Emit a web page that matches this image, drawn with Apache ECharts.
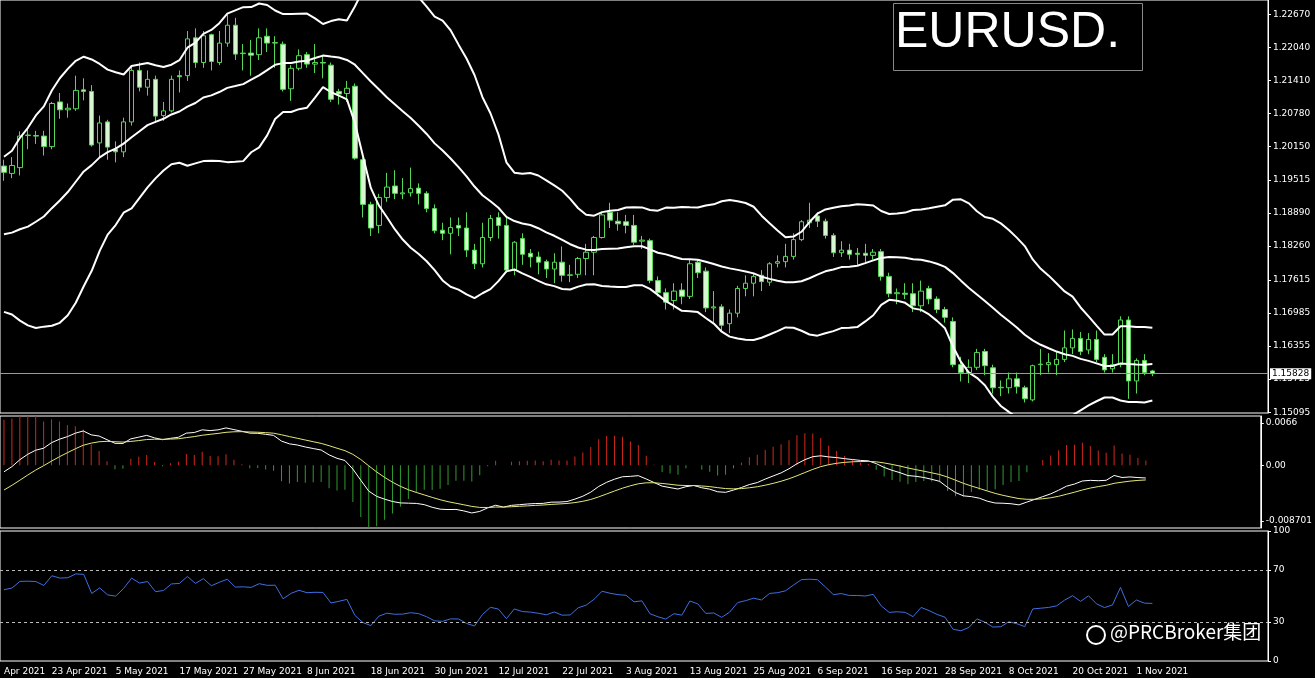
<!DOCTYPE html>
<html>
<head>
<meta charset="utf-8">
<title>EURUSD.</title>
<script src="https://cdn.jsdelivr.net/npm/echarts@6/dist/echarts.min.js"></script>
<style>
  html, body { margin: 0; padding: 0; background: #000; }
  #main { width: 1315px; height: 678px; }
</style>
</head>
<body>
<div id="main"></div>
<script>
// closes before the visible window, only used to warm up the indicators
var historyCloses = [1.2163, 1.2175, 1.2075, 1.2050, 1.2090, 1.2060, 1.1965, 1.1915, 1.1846, 1.1900,
  1.1926, 1.1985, 1.1950, 1.1930, 1.1900, 1.1980, 1.1915, 1.1905, 1.1937, 1.1850,
  1.1815, 1.1780, 1.1795, 1.1765, 1.1730, 1.1728, 1.1778, 1.1765, 1.1812, 1.1875,
  1.1870, 1.1915, 1.1900, 1.1912, 1.1948];

// daily candles [open, close, low, high]
var candles = [
  [1.1978,1.1966,1.1950,1.1990],[1.1964,1.1979,1.1955,1.1995],[1.1975,1.2035,1.1960,1.2044],[1.2036,1.2037,1.2010,1.2048],
  [1.2036,1.2035,1.2020,1.2045],[1.2035,1.2015,1.1998,1.2045],[1.2015,1.2097,1.2010,1.2100],[1.2100,1.2085,1.2068,1.2117],
  [1.2085,1.2088,1.2070,1.2097],[1.2087,1.2122,1.2083,1.2150],[1.2123,1.2120,1.2103,1.2145],[1.2120,1.2018,1.2015,1.2132],
  [1.2022,1.2060,1.1995,1.2074],[1.2062,1.2014,1.1990,1.2066],[1.2010,1.2005,1.1985,1.2025],[1.2005,1.2062,1.1995,1.2070],
  [1.2062,1.2160,1.2055,1.2170],[1.2160,1.2128,1.2120,1.2175],[1.2128,1.2143,1.2112,1.2160],[1.2143,1.2073,1.2060,1.2150],
  [1.2074,1.2083,1.2064,1.2100],[1.2083,1.2143,1.2080,1.2150],[1.2150,1.2148,1.2118,1.2160],[1.2150,1.2220,1.2140,1.2235],
  [1.2222,1.2175,1.2165,1.2240],[1.2175,1.2226,1.2165,1.2235],[1.2228,1.2177,1.2160,1.2230],[1.2175,1.2212,1.2170,1.2235],
  [1.2212,1.2246,1.2205,1.2266],[1.2246,1.2191,1.2180,1.2260],[1.2192,1.2193,1.2160,1.2210],[1.2193,1.2189,1.2150,1.2218],
  [1.2190,1.2222,1.2180,1.2240],[1.2225,1.2212,1.2195,1.2240],[1.2212,1.2213,1.2165,1.2225],[1.2210,1.2124,1.2120,1.2215],
  [1.2125,1.2164,1.2102,1.2170],[1.2164,1.2188,1.2160,1.2200],[1.2190,1.2172,1.2165,1.2195],[1.2172,1.2175,1.2155,1.2210],
  [1.2175,1.2174,1.2145,1.2190],[1.2170,1.2105,1.2100,1.2175],[1.2120,1.2115,1.2095,1.2125],[1.2116,1.2126,1.2100,1.2140],
  [1.2130,1.1993,1.1990,1.2135],[1.1990,1.1905,1.1880,1.1993],[1.1905,1.1860,1.1845,1.1910],[1.1865,1.1918,1.1850,1.1925],
  [1.1918,1.1938,1.1910,1.1965],[1.1940,1.1926,1.1915,1.1970],[1.1925,1.1927,1.1915,1.1955],[1.1927,1.1935,1.1920,1.1975],
  [1.1936,1.1926,1.1905,1.1945],[1.1926,1.1897,1.1890,1.1930],[1.1897,1.1855,1.1850,1.1905],[1.1856,1.1850,1.1837,1.1870],
  [1.1850,1.1861,1.1810,1.1880],[1.1865,1.1860,1.1845,1.1880],[1.1860,1.1818,1.1805,1.1890],[1.1818,1.1792,1.1782,1.1830],
  [1.1792,1.1842,1.1785,1.1870],[1.1842,1.1878,1.1835,1.1885],[1.1880,1.1865,1.1840,1.1890],[1.1865,1.1780,1.1775,1.1880],
  [1.1780,1.1833,1.1770,1.1835],[1.1840,1.1810,1.1790,1.1850],[1.1812,1.1805,1.1785,1.1820],[1.1805,1.1795,1.1772,1.1815],
  [1.1796,1.1782,1.1765,1.1800],[1.1782,1.1795,1.1755,1.1812],[1.1795,1.1770,1.1758,1.1825],[1.1770,1.1771,1.1757,1.1790],
  [1.1772,1.1802,1.1765,1.1805],[1.1802,1.1814,1.1770,1.1830],[1.1814,1.1842,1.1770,1.1845],[1.1842,1.1885,1.1840,1.1890],
  [1.1890,1.1875,1.1860,1.1908],[1.1873,1.1868,1.1855,1.1890],[1.1872,1.1865,1.1850,1.1885],[1.1865,1.1833,1.1828,1.1885],
  [1.1835,1.1837,1.1820,1.1845],[1.1836,1.1760,1.1755,1.1840],[1.1760,1.1737,1.1730,1.1768],[1.1737,1.1719,1.1705,1.1745],
  [1.1722,1.1740,1.1705,1.1755],[1.1742,1.1730,1.1715,1.1755],[1.1730,1.1792,1.1725,1.1800],[1.1795,1.1775,1.1765,1.1800],
  [1.1778,1.1708,1.1700,1.1785],[1.1708,1.1710,1.1680,1.1740],[1.1710,1.1675,1.1663,1.1715],[1.1678,1.1698,1.1660,1.1705],
  [1.1698,1.1745,1.1690,1.1750],[1.1745,1.1755,1.1730,1.1770],[1.1755,1.1768,1.1730,1.1775],[1.1770,1.1758,1.1740,1.1780],
  [1.1757,1.1792,1.1750,1.1795],[1.1793,1.1796,1.1785,1.1808],[1.1796,1.1806,1.1785,1.1830],[1.1806,1.1838,1.1800,1.1850],
  [1.1838,1.1872,1.1835,1.1875],[1.1870,1.1875,1.1860,1.1908],[1.1883,1.1873,1.1862,1.1890],[1.1873,1.1846,1.1840,1.1878],
  [1.1846,1.1813,1.1805,1.1850],[1.1813,1.1818,1.1805,1.1835],[1.1818,1.1810,1.1800,1.1830],[1.1812,1.1810,1.1790,1.1822],
  [1.1812,1.1808,1.1795,1.1830],[1.1808,1.1814,1.1800,1.1820],[1.1815,1.1768,1.1760,1.1820],[1.1768,1.1735,1.1728,1.1775],
  [1.1735,1.1737,1.1715,1.1745],[1.1736,1.1734,1.1725,1.1755],[1.1735,1.1712,1.1700,1.1755],[1.1712,1.1740,1.1700,1.1760],
  [1.1745,1.1725,1.1715,1.1750],[1.1725,1.1705,1.1698,1.1730],[1.1705,1.1690,1.1680,1.1710],[1.1682,1.1600,1.1595,1.1690],
  [1.1600,1.1585,1.1568,1.1615],[1.1585,1.1595,1.1565,1.1610],[1.1595,1.1623,1.1590,1.1630],[1.1625,1.1598,1.1580,1.1630],
  [1.1594,1.1556,1.1545,1.1600],[1.1556,1.1557,1.1540,1.1570],[1.1556,1.1573,1.1545,1.1585],[1.1573,1.1558,1.1545,1.1585],
  [1.1556,1.1535,1.1528,1.1560],[1.1533,1.1598,1.1530,1.1600],[1.1600,1.1601,1.1580,1.1630],[1.1600,1.1604,1.1585,1.1622],
  [1.1600,1.1610,1.1580,1.1625],[1.1610,1.1632,1.1605,1.1665],[1.1632,1.1650,1.1620,1.1667],[1.1650,1.1625,1.1618,1.1662],
  [1.1628,1.1648,1.1620,1.1660],[1.1648,1.1610,1.1605,1.1665],[1.1614,1.1590,1.1585,1.1620],[1.1592,1.1600,1.1585,1.1620],
  [1.1600,1.1685,1.1595,1.1692],[1.1685,1.1569,1.1535,1.1692],[1.1569,1.1608,1.1545,1.1612],[1.1608,1.1585,1.1580,1.1620],
  [1.1588,1.1583,1.1578,1.1590]
];

var emptySlots = 14;
var dateLabels = [
  [0, 'Apr 2021'], [6, '23 Apr 2021'], [14, '5 May 2021'], [22, '17 May 2021'], [30, '27 May 2021'],
  [38, '8 Jun 2021'], [46, '18 Jun 2021'], [54, '30 Jun 2021'], [62, '12 Jul 2021'], [70, '22 Jul 2021'],
  [78, '3 Aug 2021'], [86, '13 Aug 2021'], [94, '25 Aug 2021'], [102, '6 Sep 2021'], [110, '16 Sep 2021'],
  [118, '28 Sep 2021'], [126, '8 Oct 2021'], [134, '20 Oct 2021'], [142, '1 Nov 2021']
];
var priceTicks = [1.22670, 1.22040, 1.21410, 1.20780, 1.20150, 1.19515, 1.18890, 1.18260, 1.17615, 1.16985, 1.16355, 1.15725, 1.15095];
var macdTicks = [-0.008701, 0, 0.0066];
var rsiTicks = [0, 30, 70, 100];
var lastPrice = 1.15828;

// ---- indicators ----
var closes = historyCloses.concat(candles.map(function (c) { return c[1]; }));
var off = historyCloses.length;
var upper = [], middle = [], lower = [];
for (var i = off; i < closes.length; i++) {
  var s = 0, q = 0;
  for (var k = i - 19; k <= i; k++) s += closes[k];
  var m = s / 20;
  for (k = i - 19; k <= i; k++) q += (closes[k] - m) * (closes[k] - m);
  var sd = Math.sqrt(q / 20);
  middle.push(m); upper.push(m + 2 * sd); lower.push(m - 2 * sd);
}
function ema(arr, n) {
  var a = 2 / (n + 1), out = [arr[0]];
  for (var i = 1; i < arr.length; i++) out.push(arr[i] * a + out[i - 1] * (1 - a));
  return out;
}
var e12 = ema(closes, 12), e26 = ema(closes, 26);
var macdAll = e12.map(function (v, i) { return v - e26[i]; });
var sigAll = ema(macdAll, 9);
var macd = macdAll.slice(off), signal = sigAll.slice(off);
var hist = macd.map(function (v, i) {
  var d = (v - signal[i]) * 2.5;
  return { value: d, itemStyle: { color: d >= 0 ? '#d0281c' : '#2f9a2f' } };
});
var ag = 0, al = 0;
for (i = 1; i <= 14; i++) {
  var ch = closes[i] - closes[i - 1];
  if (ch > 0) ag += ch; else al -= ch;
}
ag /= 14; al /= 14;
var rsiAll = [];
for (i = 15; i < closes.length; i++) {
  ch = closes[i] - closes[i - 1];
  ag = (ag * 13 + Math.max(ch, 0)) / 14;
  al = (al * 13 + Math.max(-ch, 0)) / 14;
  rsiAll[i] = 100 - 100 / (1 + ag / al);
}
var rsi = rsiAll.slice(off);

var cats = [];
for (i = 0; i < candles.length + emptySlots; i++) cats.push(String(i));
var labelMap = {};
dateLabels.forEach(function (d) { labelMap[d[0]] = d[1]; });

var chart = echarts.init(document.getElementById('main'));
var axisFont = { color: '#fff', fontSize: 9, fontFamily: 'DejaVu Sans' };
var gridStyle = { show: true, borderColor: '#fff', borderWidth: 1, backgroundColor: '#000' };
function xAx(idx, showLabels) {
  return {
    type: 'category', gridIndex: idx, data: cats, boundaryGap: true,
    axisLine: { show: false }, axisTick: { show: false }, splitLine: { show: false },
    axisLabel: showLabels ? {
      show: true, interval: 0, align: 'left', color: '#fff', fontSize: 9, fontFamily: 'DejaVu Sans', margin: 6,
      formatter: function (v, i) { return labelMap[i] || ''; }
    } : { show: false }
  };
}
chart.setOption({
  backgroundColor: '#000',
  animation: false,
  grid: [
    Object.assign({ left: -2, right: 47, top: 0, height: 413 }, gridStyle),
    Object.assign({ left: -2, right: 47, top: 416, height: 112 }, gridStyle),
    Object.assign({ left: -2, right: 47, top: 531, height: 130 }, gridStyle)
  ],
  xAxis: [xAx(0, false), xAx(1, false), xAx(2, true)],
  yAxis: [
    { type: 'value', gridIndex: 0, position: 'right', min: 1.1508, max: 1.2294,
      axisLine: { show: true, lineStyle: { color: '#fff' } }, axisTick: { show: true, customValues: priceTicks, length: 3, lineStyle: { color: '#fff' } },
      splitLine: { show: false },
      axisLabel: Object.assign({ customValues: priceTicks, margin: 5, formatter: function (v) { return v.toFixed(5); } }, axisFont) },
    { type: 'value', gridIndex: 1, position: 'right', min: -0.00979, max: 0.00769,
      axisLine: { show: true, lineStyle: { color: '#fff' } }, axisTick: { show: true, customValues: macdTicks, length: 3, lineStyle: { color: '#fff' } },
      splitLine: { show: false },
      axisLabel: Object.assign({ customValues: macdTicks, margin: 5, formatter: function (v) { return v === 0 ? '0.00' : String(v); } }, axisFont) },
    { type: 'value', gridIndex: 2, position: 'right', min: 0, max: 100,
      axisLine: { show: true, lineStyle: { color: '#fff' } }, axisTick: { show: true, customValues: rsiTicks, length: 3, lineStyle: { color: '#fff' } },
      splitLine: { show: false },
      axisLabel: Object.assign({ customValues: rsiTicks, margin: 5 }, axisFont) }
  ],
  series: [
    { type: 'candlestick', xAxisIndex: 0, yAxisIndex: 0, data: candles, barWidth: 5,
      itemStyle: { color: '#000', color0: '#d6f7cf', borderColor: '#56d856', borderColor0: '#56d856', borderWidth: 1 } },
    { type: 'line', xAxisIndex: 0, yAxisIndex: 0, data: upper, showSymbol: false, lineStyle: { color: '#fff', width: 2 } },
    { type: 'line', xAxisIndex: 0, yAxisIndex: 0, data: middle, showSymbol: false, lineStyle: { color: '#fff', width: 2 } },
    { type: 'line', xAxisIndex: 0, yAxisIndex: 0, data: lower, showSymbol: false, lineStyle: { color: '#fff', width: 2 },
      markLine: { symbol: 'none', silent: true, precision: 5,
        lineStyle: { color: '#9a9a9a', type: 'solid', width: 1 },
        label: { position: 'end', distance: 2, color: '#000', backgroundColor: '#fff', fontSize: 9, padding: [1, 2],
          fontFamily: 'DejaVu Sans', formatter: function () { return lastPrice.toFixed(5); } },
        data: [{ yAxis: lastPrice }] } },
    { type: 'bar', xAxisIndex: 1, yAxisIndex: 1, data: hist, barWidth: 1 },
    { type: 'line', xAxisIndex: 1, yAxisIndex: 1, data: macd, showSymbol: false, lineStyle: { color: '#fff', width: 1 } },
    { type: 'line', xAxisIndex: 1, yAxisIndex: 1, data: signal, showSymbol: false, lineStyle: { color: '#e6e67a', width: 1 } },
    { type: 'line', xAxisIndex: 2, yAxisIndex: 2, data: rsi, showSymbol: false, lineStyle: { color: '#3f6fe0', width: 1 },
      markLine: { symbol: 'none', silent: true, label: { show: false },
        lineStyle: { color: '#bbb', type: [3, 3], width: 1 }, data: [{ yAxis: 70 }, { yAxis: 30 }] } }
  ],
  graphic: [
    { type: 'rect', left: 893, top: 3, shape: { width: 249, height: 67 }, style: { fill: '#000', stroke: '#888', lineWidth: 1 } },
    { type: 'text', left: 895, top: 8, style: { text: 'EURUSD.', fill: '#fff', font: '50px Liberation Sans' } },
    { type: 'text', left: 1110, top: 622, style: { text: '@PRCBroker集团', fill: '#fff', font: '19px "Noto Sans CJK SC"' } },
    { type: 'circle', shape: { cx: 1096, cy: 635, r: 9 }, style: { fill: 'none', stroke: '#fff', lineWidth: 2 } }
  ]
});
</script>
</body>
</html>
